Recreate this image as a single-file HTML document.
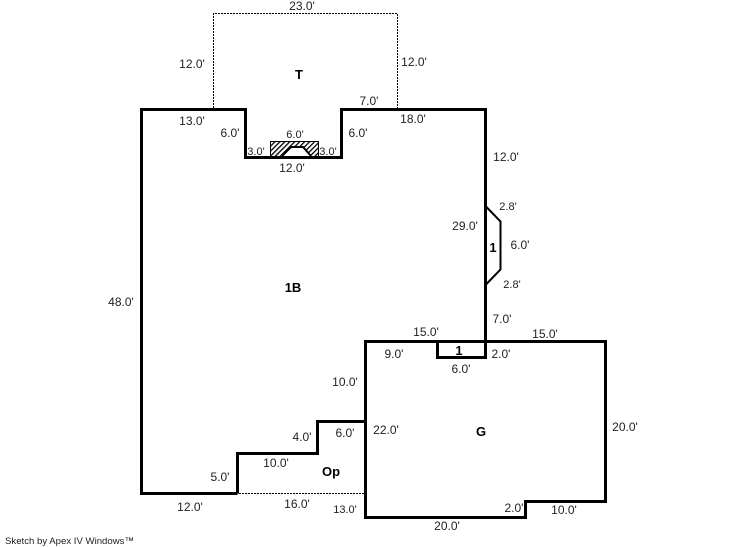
<!DOCTYPE html>
<html><head><meta charset="utf-8"><style>
html,body{margin:0;padding:0;background:#fff;width:746px;height:547px;overflow:hidden}
svg{display:block}
text{font-family:"Liberation Sans",Arial,sans-serif;font-size:12px;fill:#222;text-anchor:middle}
.b{font-weight:bold;font-size:13px;fill:#000}
.t{stroke:#000;stroke-width:3;fill:none;stroke-linejoin:miter;shape-rendering:crispEdges}
.d{stroke:#000;stroke-width:1;fill:none;stroke-dasharray:2 1;shape-rendering:crispEdges}
</style></head><body>
<svg width="746" height="547" viewBox="0 0 746 547" xmlns="http://www.w3.org/2000/svg">
<defs><pattern id="h" width="3.5" height="3.5" patternUnits="userSpaceOnUse" patternTransform="rotate(45)"><rect width="3.5" height="3.5" fill="#fff"/><rect width="1.3" height="3.5" fill="#000"/></pattern></defs>
<path class="d" d="M213.5 108V13.5H397.5V108"/>
<path class="d" d="M239 493.5H364"/>
<path class="t" d="M237.5 493.5H141.5V109.5H245.5V157.5H341.5V109.5H485.5V341.5"/>
<path class="t" d="M237.5 493.5V453.5H317.5V421.5H365.5"/>
<path class="t" d="M365.5 341.5H605.5V501.5H525.5V517.5H365.5Z"/>
<path class="t" d="M437.5 341.5V357.5H485.5V341.5"/>
<path d="M485.5 206L500.5 221.5V269.5L485.5 285" stroke="#000" stroke-width="2" fill="none"/>
<rect x="270.5" y="141.5" width="48" height="15" fill="url(#h)" stroke="#000" stroke-width="1" shape-rendering="crispEdges"/>
<path d="M282 156L291 147H303L311 156Z" fill="#fff"/>
<path d="M282 156L291 147H303L311 156" fill="none" stroke="#000" stroke-width="2"/>
<text x="302" y="10">23.0'</text>
<text x="192" y="68">12.0'</text>
<text x="414" y="66">12.0'</text>
<text class="b" x="299" y="79">T</text>
<text x="369" y="105">7.0'</text>
<text x="192" y="125">13.0'</text>
<text x="413" y="123">18.0'</text>
<text x="230" y="137">6.0'</text>
<text x="358" y="137">6.0'</text>
<text x="295" y="138" style="font-size:11px">6.0'</text>
<text x="256" y="155" style="font-size:11px">3.0'</text>
<text x="328" y="155" style="font-size:11px">3.0'</text>
<text x="292" y="172">12.0'</text>
<text x="506" y="161">12.0'</text>
<text x="508" y="210" style="font-size:11px">2.8'</text>
<text x="465" y="230">29.0'</text>
<text class="b" x="493" y="252">1</text>
<text x="520" y="249">6.0'</text>
<text x="512" y="288" style="font-size:11px">2.8'</text>
<text class="b" x="293" y="292">1B</text>
<text x="121" y="306">48.0'</text>
<text x="502" y="323">7.0'</text>
<text x="426" y="336">15.0'</text>
<text x="545" y="338">15.0'</text>
<text x="394" y="358">9.0'</text>
<text class="b" x="459" y="355">1</text>
<text x="501" y="358">2.0'</text>
<text x="461" y="373">6.0'</text>
<text x="345" y="386">10.0'</text>
<text x="386" y="434">22.0'</text>
<text x="345" y="437">6.0'</text>
<text x="302" y="441">4.0'</text>
<text class="b" x="481" y="436">G</text>
<text x="625" y="431">20.0'</text>
<text x="276" y="467">10.0'</text>
<text class="b" x="331" y="476">Op</text>
<text x="220" y="481">5.0'</text>
<text x="297" y="508">16.0'</text>
<text x="345" y="513" style="font-size:11px">13.0'</text>
<text x="190" y="511">12.0'</text>
<text x="514" y="512">2.0'</text>
<text x="564" y="514">10.0'</text>
<text x="447" y="530">20.0'</text>
<text x="5" y="544" style="text-anchor:start;font-size:9.6px">Sketch by Apex IV Windows™</text>
</svg>
</body></html>
